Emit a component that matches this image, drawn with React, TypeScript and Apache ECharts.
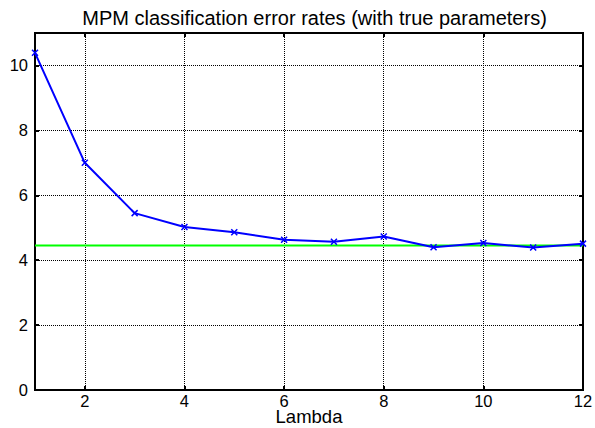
import React, { useEffect, useRef } from "react";
import * as echarts from "echarts";

const lambdas = [1, 2, 3, 4, 5, 6, 7, 8, 9, 10, 11, 12];
const errorRates = [10.39, 7.0, 5.45, 5.02, 4.86, 4.63, 4.57, 4.73, 4.4, 4.53, 4.39, 4.51];
const trueParamRate = 4.45;
const titleText = "MPM classification error rates (with true parameters)";
const xLabel = "Lambda";

const FONT = "Liberation Sans, Arial, sans-serif";

export default function App() {
  const ref = useRef<HTMLDivElement>(null);
  useEffect(() => {
    if (!ref.current) return;
    const chart = echarts.init(ref.current, null, { renderer: "svg" });
    const grid = { left: 35, right: 12, top: 33, bottom: 38 };
    const dotted = { show: true, lineStyle: { color: "#000", type: [1, 1] as any, width: 1 } };
    const tick = { show: true, inside: true, length: 4, lineStyle: { color: "#000", width: 2 } };
    const axisLine = { show: true, onZero: false, lineStyle: { color: "#000", width: 2 } };
    chart.setOption({
      animation: false,
      backgroundColor: "#fff",
      title: {
        text: titleText,
        left: 309.5,
        textAlign: "center",
        top: 3,
        textStyle: { fontFamily: FONT, fontSize: 20, fontWeight: "normal", color: "#000" },
      },
      grid: {
        ...grid,
        containLabel: false,
        outerBoundsMode: "none",
        show: true,
        borderColor: "#000",
        borderWidth: 2,
      },
      xAxis: [
        {
          type: "value",
          min: 1,
          max: 12,
          splitNumber: 5,
          name: xLabel,
          nameLocation: "middle",
          nameGap: 17,
          nameMoveOverlap: false,
          nameTextStyle: { fontFamily: FONT, fontSize: 18.5, color: "#000", verticalAlign: "top", lineHeight: 19 },
          axisLine,
          axisTick: tick,
          axisLabel: { showMinLabel: false, fontFamily: FONT, fontSize: 16.5, color: "#000", margin: 3, lineHeight: 16 },
          splitLine: dotted,
        },
        {
          type: "value",
          position: "top",
          min: 1,
          max: 12,
          splitNumber: 5,
          axisLine,
          axisTick: tick,
          axisLabel: { show: false },
          splitLine: { show: false },
        },
      ],
      yAxis: [
        {
          type: "value",
          min: 0,
          max: 11,
          interval: 2,
          axisLine,
          axisTick: tick,
          axisLabel: { showMaxLabel: false, fontFamily: FONT, fontSize: 16.5, color: "#000", margin: 7 },
          splitLine: dotted,
        },
        {
          type: "value",
          position: "right",
          min: 0,
          max: 11,
          interval: 2,
          axisLine,
          axisTick: tick,
          axisLabel: { show: false },
          splitLine: { show: false },
        },
      ],
      series: [
        {
          type: "line",
          data: [
            [lambdas[0], trueParamRate],
            [lambdas[lambdas.length - 1], trueParamRate],
          ],
          showSymbol: false,
          lineStyle: { color: "#00ff00", width: 2 },
          z: 3,
        },
        {
          type: "line",
          data: lambdas.map((l, i) => [l, errorRates[i]]),
          symbol: "path://M0,0L10,10M10,0L0,10",
          symbolSize: 6,
          itemStyle: { color: "#0000ff", borderColor: "#0000ff", borderWidth: 1.5 },
          lineStyle: { color: "#0000ff", width: 2 },
          z: 4,
        },
      ],
    });
    return () => chart.dispose();
  }, []);
  return <div ref={ref} style={{ width: 595, height: 428, position: "absolute", left: 0, top: 0 }} />;
}
